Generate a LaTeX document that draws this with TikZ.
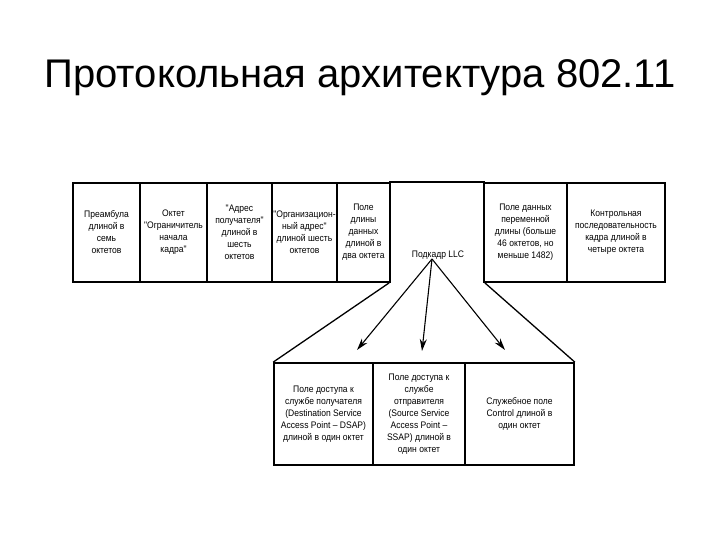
\documentclass[tikz,border=0pt]{standalone}
\usepackage{fontspec}
\setmainfont{Liberation Sans}
\newfontfamily\fieldfont[FakeStretch=0.9]{Liberation Sans}
\usetikzlibrary{arrows.meta}

\tikzset{
    field/.style={draw, line width=1.7pt, minimum height=99pt, inner sep=0.5pt,
        align=center, font=\fieldfont\fontsize{9.5}{12}\selectfont},
    subfield/.style={field, minimum height=102pt},
    pointer/.style={line width=1.1pt, -{Stealth[length=12pt, width=7pt]}}
}

\begin{document}
\begin{tikzpicture}[x=1pt, y=-1pt]
    \useasboundingbox (0,0) rectangle (720,540);

    % Title
    \node[anchor=base, font=\fontsize{40}{44}\selectfont] (title) at (360,88)
        {Протокольная архитектура 802.11};

    % Frame fields
    \node[field, minimum width=67pt] (preamble) at (106.5,232.5)
        {Преамбула\\длиной в\\семь\\октетов};
    \node[field, minimum width=67pt] (sfd) at (173.5,232.5)
        {Октет\\"Ограничитель\\начала\\кадра"};
    \node[field, minimum width=65pt] (daddr) at (239.5,232.5)
        {"Адрес\\получателя"\\длиной в\\шесть\\октетов};
    \node[field, minimum width=65pt] (saddr) at (304.5,232.5)
        {"Организацион-\\ный адрес"\\длиной шесть\\октетов};
    \node[field, minimum width=53pt] (length) at (363.5,232.5)
        {Поле\\длины\\данных\\длиной в\\два октета};
    \node[field, draw=none, minimum width=94pt] (llc) at (437,232.5) {};
    \node[field, minimum width=83pt] (payload) at (525.5,232.5)
        {Поле данных\\переменной\\длины (больше\\46 октетов, но\\меньше 1482)};
    \node[field, minimum width=98pt] (fcs) at (616,232.5)
        {Контрольная\\последовательность\\кадра длиной в\\четыре октета};

    % LLC subframe
    \draw[line width=1.7pt] (llc.north west) -- (llc.north east);
    \node[font=\fieldfont\fontsize{9.5}{12}\selectfont] (llctext) at (438,255) {Подкадр LLC};

    \node[subfield, minimum width=99pt] (dsap) at (323.5,414)
        {Поле доступа к\\службе получателя\\(Destination Service\\Access Point – DSAP)\\длиной в один октет};
    \node[subfield, minimum width=92pt] (ssap) at (419,414)
        {Поле доступа к\\службе\\отправителя\\(Source Service\\Access Point –\\SSAP) длиной в\\один октет};
    \node[subfield, minimum width=109pt] (ctrl) at (519.5,414)
        {Служебное поле\\Control длиной в\\один октет};

    % Expansion lines
    \draw[line width=1.3pt] (llc.south west) -- (dsap.north west);
    \draw[line width=1.3pt] (llc.south east) -- (ctrl.north east);

    % Arrows
    \coordinate (fork) at (432,259);
    \coordinate (tipdsap) at (357,350);
    \coordinate (tipssap) at (422,351);
    \coordinate (tipctrl) at (505,350);
    \foreach \t in {tipdsap,tipssap,tipctrl}
        \draw[pointer] (fork) -- (\t);

\end{tikzpicture}
\end{document}
